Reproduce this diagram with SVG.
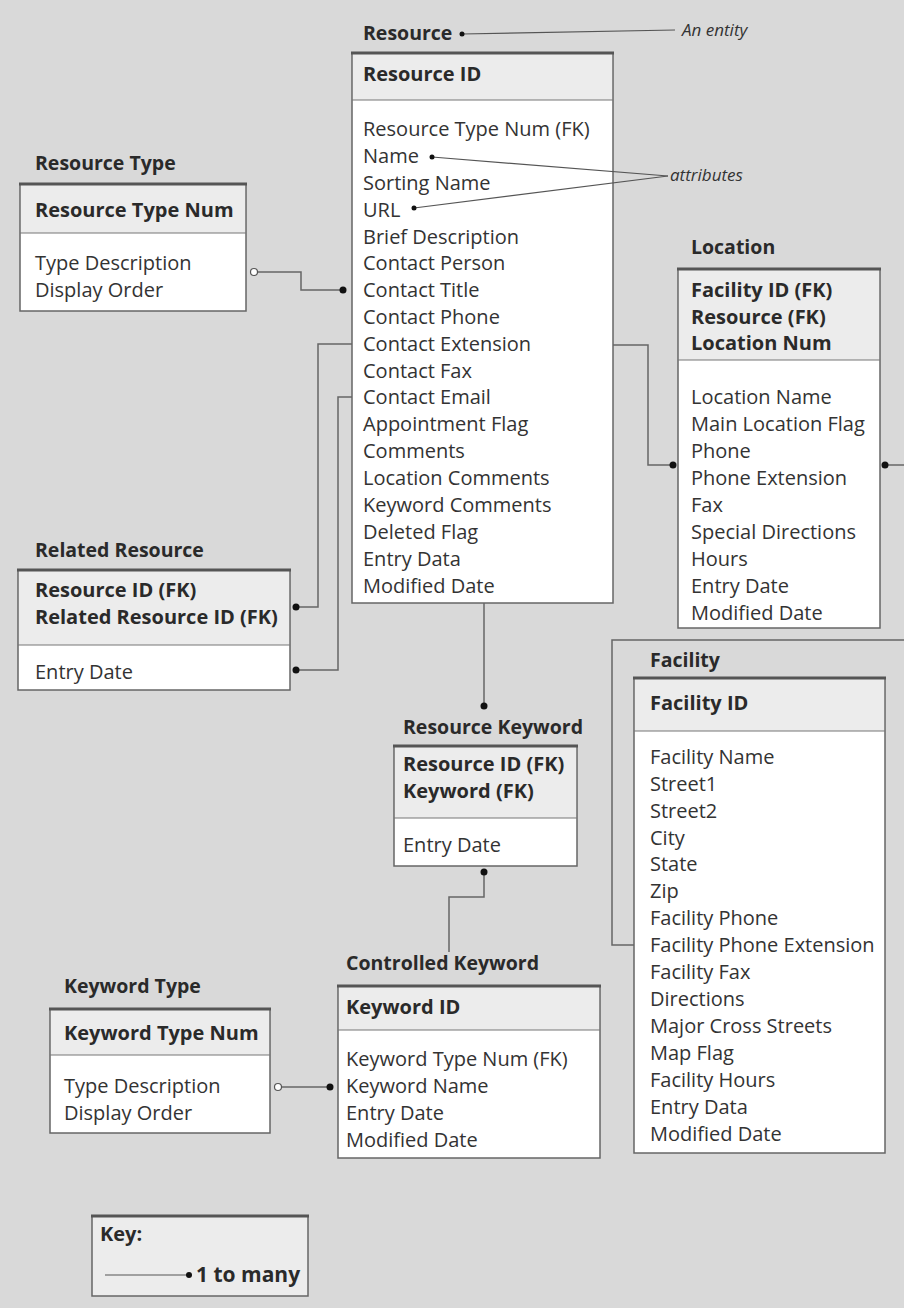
<svg xmlns="http://www.w3.org/2000/svg" width="904" height="1308" viewBox="0 0 904 1308">
  <style>
    .t { font-family: "Open Sans", "Noto Sans", sans-serif; font-size: 19.5px; font-weight: bold; fill: #2a2a2a; }
    .k { font-family: "Open Sans", "Noto Sans", sans-serif; font-size: 20px; font-weight: bold; fill: #2a2a2a; }
    .a { font-family: "Open Sans", "Noto Sans", sans-serif; font-size: 20px; fill: #333; }
    .note { font-family: "Open Sans", "Noto Sans", sans-serif; font-size: 17px; font-style: italic; fill: #333; }
    .body { fill: #ffffff; stroke: #666; stroke-width: 1.5; }
    .hdr { fill: #ececec; stroke: none; }
    .div { stroke: #777; stroke-width: 1.2; }
    .top { stroke: #555; stroke-width: 3; }
    .conn path, .conn line { fill: none; stroke: #666; stroke-width: 1.5; }
    .dot { fill: #111; }
    .open { fill: #fff; stroke: #555; stroke-width: 1.2; }
  </style>

  <rect x="0" y="0" width="904" height="1308" fill="#d9d9d9"/>

  <!-- Resource -->
  <g id="resource">
    <text class="t" x="363" y="40">Resource</text>
    <rect class="body" x="352" y="53" width="261" height="550"/>
    <rect class="hdr" x="353" y="54" width="259" height="46"/>
    <line class="div" x1="352" y1="100" x2="613" y2="100"/>
    <line class="top" x1="351" y1="53" x2="614" y2="53"/>
    <text class="k" x="363" y="81">Resource ID</text>
    <text class="a" x="363" y="136">Resource Type Num (FK)</text>
    <text class="a" x="363" y="163">Name</text>
    <text class="a" x="363" y="190">Sorting Name</text>
    <text class="a" x="363" y="217">URL</text>
    <text class="a" x="363" y="244">Brief Description</text>
    <text class="a" x="363" y="270">Contact Person</text>
    <text class="a" x="363" y="297">Contact Title</text>
    <text class="a" x="363" y="324">Contact Phone</text>
    <text class="a" x="363" y="351">Contact Extension</text>
    <text class="a" x="363" y="378">Contact Fax</text>
    <text class="a" x="363" y="404">Contact Email</text>
    <text class="a" x="363" y="431">Appointment Flag</text>
    <text class="a" x="363" y="458">Comments</text>
    <text class="a" x="363" y="485">Location Comments</text>
    <text class="a" x="363" y="512">Keyword Comments</text>
    <text class="a" x="363" y="539">Deleted Flag</text>
    <text class="a" x="363" y="566">Entry Data</text>
    <text class="a" x="363" y="593">Modified Date</text>
  </g>

  <!-- Resource Type -->
  <g id="resource-type">
    <text class="t" x="35" y="170">Resource Type</text>
    <rect class="body" x="20" y="184" width="226" height="127"/>
    <rect class="hdr" x="21" y="185" width="224" height="48"/>
    <line class="div" x1="20" y1="233" x2="246" y2="233"/>
    <line class="top" x1="19" y1="184" x2="247" y2="184"/>
    <text class="k" x="35" y="217">Resource Type Num</text>
    <text class="a" x="35" y="270">Type Description</text>
    <text class="a" x="35" y="297">Display Order</text>
  </g>

  <!-- Location -->
  <g id="location">
    <text class="t" x="691" y="254">Location</text>
    <rect class="body" x="678" y="269" width="202" height="359"/>
    <rect class="hdr" x="679" y="270" width="200" height="90"/>
    <line class="div" x1="678" y1="360" x2="880" y2="360"/>
    <line class="top" x1="677" y1="269" x2="881" y2="269"/>
    <text class="k" x="691" y="297">Facility ID (FK)</text>
    <text class="k" x="691" y="324">Resource (FK)</text>
    <text class="k" x="691" y="350">Location Num</text>
    <text class="a" x="691" y="404">Location Name</text>
    <text class="a" x="691" y="431">Main Location Flag</text>
    <text class="a" x="691" y="458">Phone</text>
    <text class="a" x="691" y="485">Phone Extension</text>
    <text class="a" x="691" y="512">Fax</text>
    <text class="a" x="691" y="539">Special Directions</text>
    <text class="a" x="691" y="566">Hours</text>
    <text class="a" x="691" y="593">Entry Date</text>
    <text class="a" x="691" y="620">Modified Date</text>
  </g>

  <!-- Related Resource -->
  <g id="related-resource">
    <text class="t" x="35" y="557">Related Resource</text>
    <rect class="body" x="18" y="570" width="272" height="120"/>
    <rect class="hdr" x="19" y="571" width="270" height="74"/>
    <line class="div" x1="18" y1="645" x2="290" y2="645"/>
    <line class="top" x1="17" y1="570" x2="291" y2="570"/>
    <text class="k" x="35" y="597">Resource ID (FK)</text>
    <text class="k" x="35" y="624">Related Resource ID (FK)</text>
    <text class="a" x="35" y="679">Entry Date</text>
  </g>

  <!-- Resource Keyword -->
  <g id="resource-keyword">
    <text class="t" x="403" y="734">Resource Keyword</text>
    <rect class="body" x="394" y="746" width="183" height="120"/>
    <rect class="hdr" x="395" y="747" width="181" height="71"/>
    <line class="div" x1="394" y1="818" x2="577" y2="818"/>
    <line class="top" x1="393" y1="746" x2="578" y2="746"/>
    <text class="k" x="403" y="771">Resource ID (FK)</text>
    <text class="k" x="403" y="798">Keyword (FK)</text>
    <text class="a" x="403" y="852">Entry Date</text>
  </g>

  <!-- Facility -->
  <g id="facility">
    <text class="t" x="650" y="667">Facility</text>
    <rect class="body" x="634" y="678" width="251" height="475"/>
    <rect class="hdr" x="635" y="679" width="249" height="52"/>
    <line class="div" x1="634" y1="731" x2="885" y2="731"/>
    <line class="top" x1="633" y1="678" x2="886" y2="678"/>
    <text class="k" x="650" y="710">Facility ID</text>
    <text class="a" x="650" y="764">Facility Name</text>
    <text class="a" x="650" y="791">Street1</text>
    <text class="a" x="650" y="818">Street2</text>
    <text class="a" x="650" y="845">City</text>
    <text class="a" x="650" y="871">State</text>
    <text class="a" x="650" y="898">Zip</text>
    <text class="a" x="650" y="925">Facility Phone</text>
    <text class="a" x="650" y="952">Facility Phone Extension</text>
    <text class="a" x="650" y="979">Facility Fax</text>
    <text class="a" x="650" y="1006">Directions</text>
    <text class="a" x="650" y="1033">Major Cross Streets</text>
    <text class="a" x="650" y="1060">Map Flag</text>
    <text class="a" x="650" y="1087">Facility Hours</text>
    <text class="a" x="650" y="1114">Entry Data</text>
    <text class="a" x="650" y="1141">Modified Date</text>
  </g>

  <!-- Controlled Keyword -->
  <g id="controlled-keyword">
    <text class="t" x="346" y="970">Controlled Keyword</text>
    <rect class="body" x="338" y="986" width="262" height="172"/>
    <rect class="hdr" x="339" y="987" width="260" height="43"/>
    <line class="div" x1="338" y1="1030" x2="600" y2="1030"/>
    <line class="top" x1="337" y1="986" x2="601" y2="986"/>
    <text class="k" x="346" y="1014">Keyword ID</text>
    <text class="a" x="346" y="1066">Keyword Type Num (FK)</text>
    <text class="a" x="346" y="1093">Keyword Name</text>
    <text class="a" x="346" y="1120">Entry Date</text>
    <text class="a" x="346" y="1147">Modified Date</text>
  </g>

  <!-- Keyword Type -->
  <g id="keyword-type">
    <text class="t" x="64" y="993">Keyword Type</text>
    <rect class="body" x="50" y="1009" width="220" height="124"/>
    <rect class="hdr" x="51" y="1010" width="218" height="45"/>
    <line class="div" x1="50" y1="1055" x2="270" y2="1055"/>
    <line class="top" x1="49" y1="1009" x2="271" y2="1009"/>
    <text class="k" x="64" y="1040">Keyword Type Num</text>
    <text class="a" x="64" y="1093">Type Description</text>
    <text class="a" x="64" y="1120">Display Order</text>
  </g>

  <!-- Key -->
  <g id="key">
    <rect class="body" x="92" y="1216" width="216" height="80" style="fill:#ececec"/>
    <line class="top" x1="91" y1="1216" x2="309" y2="1216"/>
    <text class="k" x="100" y="1241">Key:</text>
    <line x1="105" y1="1275" x2="188" y2="1275" stroke="#555" stroke-width="1.2"/>
    <circle class="dot" cx="189" cy="1275" r="3"/>
    <text class="k" x="196" y="1282" style="font-size:21px">1 to many</text>
  </g>

  <!-- Annotations -->
  <g id="annotations">
    <line x1="462" y1="34" x2="675" y2="30" stroke="#555" stroke-width="1.2"/>
    <circle class="dot" cx="462" cy="34" r="2.5"/>
    <text class="note" x="682" y="36">An entity</text>
    <line x1="432" y1="157" x2="668" y2="176" stroke="#555" stroke-width="1.2"/>
    <line x1="414" y1="208" x2="668" y2="176" stroke="#555" stroke-width="1.2"/>
    <circle class="dot" cx="432" cy="157" r="2.5"/>
    <circle class="dot" cx="414" cy="208" r="2.5"/>
    <text class="note" x="670" y="181">attributes</text>
  </g>

  <!-- Relationships -->
  <g id="connectors" class="conn">
    <path d="M258,272 H301 V290 H343"/>
    <path d="M352,344 H318 V607 H296"/>
    <path d="M352,397 H338 V670 H296"/>
    <path d="M613,345 H648 V465 H673"/>
    <path d="M885,465 H910"/>
    <path d="M904,640 H612 V945 H634"/>
    <path d="M484,603 V706"/>
    <path d="M484,872 V897 H449 V952"/>
    <path d="M282,1087 H330"/>
    <circle class="open" cx="254" cy="272" r="3.5"/>
    <circle class="dot" cx="343" cy="290" r="3.5"/>
    <circle class="dot" cx="296" cy="607" r="3.5"/>
    <circle class="dot" cx="296" cy="670" r="3.5"/>
    <circle class="dot" cx="673" cy="465" r="3.5"/>
    <circle class="dot" cx="885" cy="465" r="3.5"/>
    <circle class="dot" cx="484" cy="706" r="3.5"/>
    <circle class="dot" cx="484" cy="872" r="3.5"/>
    <circle class="open" cx="278" cy="1087" r="3.5"/>
    <circle class="dot" cx="330" cy="1087" r="3.5"/>
  </g>
</svg>
